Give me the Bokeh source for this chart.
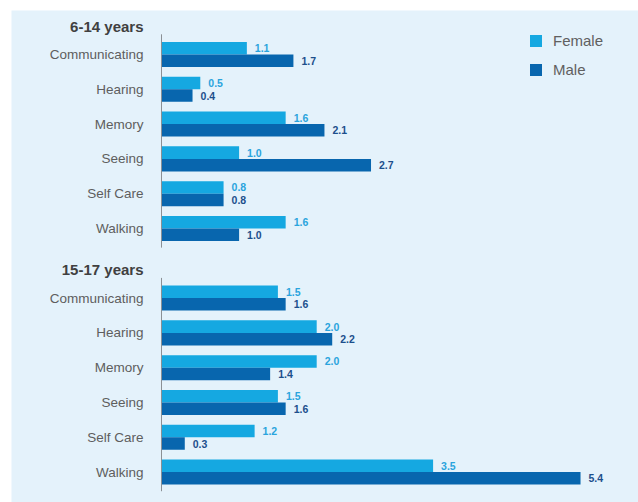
from bokeh.plotting import figure
from bokeh.models import ColumnDataSource, Range1d, Legend, LegendItem
from bokeh.core.properties import value
from bokeh.embed import file_html
from bokeh.resources import INLINE

groups = ["6-14 years", "15-17 years"]
categories = ["Communicating", "Hearing", "Memory", "Seeing", "Self Care", "Walking"]
female_6_14 = [1.1, 0.5, 1.6, 1.0, 0.8, 1.6]
male_6_14 = [1.7, 0.4, 2.1, 2.7, 0.8, 1.0]
female_15_17 = [1.5, 2.0, 2.0, 1.5, 1.2, 3.5]
male_15_17 = [1.6, 2.2, 1.4, 1.6, 0.3, 5.4]

female_series = [female_6_14, female_15_17]
male_series = [male_6_14, male_15_17]

FEMALE = "#15a8e1"
MALE = "#0866ae"
FEMALE_TXT = "#2aa4dd"
MALE_TXT = "#1c4f8c"
BG = "#e4f2fb"
FONT = "Liberation Sans"

stride = len(categories) + 1
pos, cat, fem, mal = [], [], [], []
for gi, g in enumerate(groups):
    for ci, c in enumerate(categories):
        pos.append(gi * stride + ci)
        cat.append(c)
        fem.append(female_series[gi][ci])
        mal.append(male_series[gi][ci])

bh = 0.36
src = ColumnDataSource(dict(
    pos=pos, cat=cat, fem=fem, mal=mal,
    fy=[p - bh / 2 for p in pos], my=[p + bh / 2 for p in pos],
    flab=["%.1f" % v for v in fem], mlab=["%.1f" % v for v in mal],
    zero=[0] * len(pos),
))

gsrc = ColumnDataSource(dict(
    name=groups,
    ty=[gi * stride - 0.81 for gi in range(len(groups))],
    y0=[gi * stride - 0.58 for gi in range(len(groups))],
    y1=[gi * stride + len(categories) - 1 + 0.55 for gi in range(len(groups))],
    zero=[0] * len(groups),
))

p = figure(width=638, height=502, output_backend="svg", toolbar_location=None,
           x_range=Range1d(-1.933, 6.147), y_range=Range1d(12.874, -1.264),
           x_axis_type=None, y_axis_type=None,
           min_border_left=11, min_border_top=10, min_border_right=0, min_border_bottom=0)
p.background_fill_color = BG
p.border_fill_color = "white"
p.outline_line_color = None
p.grid.visible = False

rf = p.hbar(y="fy", left=0, right="fem", height=bh, source=src, fill_color=FEMALE, line_color=None)
rm = p.hbar(y="my", left=0, right="mal", height=bh, source=src, fill_color=MALE, line_color=None)

p.text(x="fem", y="fy", text="flab", source=src, x_offset=8, text_align="left",
       text_baseline="middle", text_font=value(FONT), text_font_size="10.5px",
       text_font_style="bold", text_color=FEMALE_TXT)
p.text(x="mal", y="my", text="mlab", source=src, x_offset=8, text_align="left",
       text_baseline="middle", text_font=value(FONT), text_font_size="10.5px",
       text_font_style="bold", text_color=MALE_TXT)

p.text(x="zero", y="pos", text="cat", source=src, x_offset=-18, text_align="right",
       text_baseline="middle", text_font=value(FONT), text_font_size="13.5px",
       text_color="#5e5e5e")

p.text(x="zero", y="ty", text="name", source=gsrc, x_offset=-18, text_align="right",
       text_baseline="middle", text_font=value(FONT), text_font_size="15px",
       text_font_style="bold", text_color="#404040")

p.segment(x0="zero", y0="y0", x1="zero", y1="y1", source=gsrc, line_color="#8a8f94", line_width=1)

legend = Legend(items=[LegendItem(label="Female", renderers=[rf]),
                       LegendItem(label="Male", renderers=[rm])],
                location=(517, 424), orientation="vertical",
                glyph_width=15, glyph_height=15, label_height=15, spacing=12,
                label_standoff=10, padding=0, margin=0,
                background_fill_alpha=0, border_line_color=None,
                label_text_font=FONT, label_text_font_size="15px", label_text_color="#606060")
p.add_layout(legend)

open("out.html", "w").write(file_html(p, INLINE))
